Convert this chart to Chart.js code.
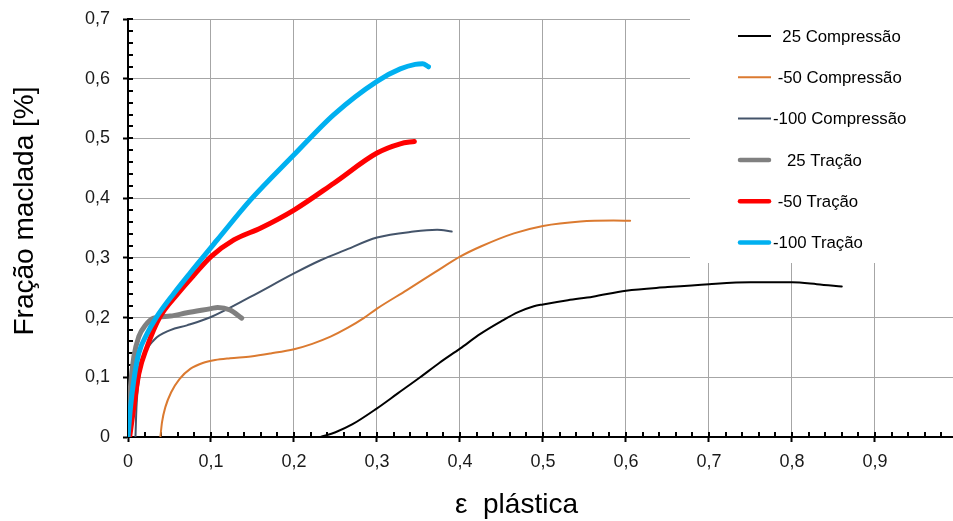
<!DOCTYPE html>
<html lang="pt">
<head>
<meta charset="utf-8">
<title>Fração maclada × ε plástica</title>
<script src="https://cdn.jsdelivr.net/npm/chart.js@4/dist/chart.umd.min.js"></script>
<style>
  html, body { margin: 0; padding: 0; background: #fff; overflow: hidden; }
  canvas { display: block; }
</style>
</head>
<body>
<canvas id="chart" width="953" height="521"></canvas>
<script>
// ---- data -------------------------------------------------------------
const seriesNames = ['  25 Compressão', ' -50 Compressão', '-100 Compressão',
                     '   25 Tração', ' -50 Tração', '-100 Tração'];

// 25 °C, compressão
const comp25X = [0.232, 0.25, 0.27, 0.3, 0.325, 0.352, 0.375, 0.4, 0.425, 0.45, 0.47, 0.489,
                 0.5, 0.53, 0.56, 0.6, 0.65, 0.7, 0.75, 0.8, 0.83, 0.86];
const comp25Y = [0, 0.008, 0.021, 0.048, 0.073, 0.1, 0.124, 0.148, 0.173, 0.194, 0.209, 0.219,
                 0.222, 0.229, 0.235, 0.245, 0.251, 0.256, 0.259, 0.259, 0.256, 0.252];

// -50 °C, compressão
const comp50X = [0.039, 0.041, 0.045, 0.052, 0.062, 0.075, 0.09, 0.105, 0.123, 0.148, 0.172, 0.2,
                 0.222, 0.244, 0.265, 0.284, 0.3, 0.336, 0.37, 0.4, 0.425, 0.465, 0.5, 0.545,
                 0.585, 0.605];
const comp50Y = [0, 0.025, 0.05, 0.075, 0.097, 0.114, 0.124, 0.129, 0.132, 0.135, 0.14, 0.147,
                 0.156, 0.168, 0.183, 0.199, 0.215, 0.246, 0.276, 0.302, 0.319, 0.341, 0.3535, 0.361,
                 0.3624, 0.362];

// -100 °C, compressão
const comp100X = [0.009, 0.0102, 0.013, 0.019, 0.031, 0.051, 0.071, 0.1, 0.148, 0.2, 0.232, 0.26,
                  0.3, 0.344, 0.3725, 0.39];
const comp100Y = [0, 0.05, 0.095, 0.134, 0.162, 0.179, 0.187, 0.201, 0.235, 0.274, 0.296, 0.312,
                  0.334, 0.344, 0.347, 0.344];

// 25 °C, tração
const trac25X = [0.001, 0.003, 0.007, 0.013, 0.021, 0.031, 0.051, 0.071, 0.1, 0.108, 0.123, 0.137];
const trac25Y = [0.03, 0.084, 0.134, 0.168, 0.187, 0.199, 0.2025, 0.208, 0.215, 0.217, 0.2126, 0.199];

// -50 °C, tração
const trac50X = [0.002, 0.007, 0.013, 0.023, 0.038, 0.06, 0.08, 0.1, 0.1275, 0.16, 0.2, 0.248,
                 0.3, 0.328, 0.345];
const trac50Y = [0, 0.05, 0.106, 0.151, 0.2, 0.24, 0.272, 0.302, 0.33, 0.35, 0.38, 0.425,
                 0.4755, 0.491, 0.495];

// -100 °C, tração
const trac100X = [0, 0.003, 0.007, 0.013, 0.023, 0.034, 0.055, 0.075, 0.1075, 0.1476, 0.2, 0.248,
                  0.3, 0.328, 0.346, 0.355, 0.362];
const trac100Y = [0, 0.05, 0.095, 0.14, 0.173, 0.2, 0.24, 0.275, 0.33, 0.397, 0.4726, 0.54,
                  0.5957, 0.6164, 0.624, 0.625, 0.62];

const xTickLabels = ['0', '0,1', '0,2', '0,3', '0,4', '0,5', '0,6', '0,7', '0,8', '0,9'];
const yTickLabels = ['0', '0,1', '0,2', '0,3', '0,4', '0,5', '0,6', '0,7'];

const xTitle = 'ε  plástica';
const yTitle = 'Fração maclada [%]';

// ---- helpers ----------------------------------------------------------
const pts = (xs, ys) => xs.map((x, i) => ({ x, y: ys[i] }));
const FONT = '"Liberation Sans", Arial, sans-serif';

function line(label, xs, ys, color, width, order) {
  return {
    label, data: pts(xs, ys),
    borderColor: color, backgroundColor: color,
    borderWidth: width, pointRadius: 0,
    cubicInterpolationMode: 'monotone',
    borderCapStyle: 'round', borderJoinStyle: 'round',
    fill: false, order
  };
}

// inner tick marks every 0.02 on both axes
const innerTicks = {
  id: 'innerTicks',
  beforeDatasetsDraw(chart) {
    const { ctx, chartArea: a, scales: { x, y } } = chart;
    ctx.save();
    ctx.strokeStyle = '#000';
    ctx.lineWidth = 2;
    ctx.beginPath();
    for (let i = 0; i * 0.02 <= x.max + 1e-9; i++) {
      const px = Math.round(x.getPixelForValue(i * 0.02));
      ctx.moveTo(px, a.bottom);
      ctx.lineTo(px, a.bottom - 5);
    }
    for (let i = 0; i * 0.02 <= y.max + 1e-9; i++) {
      const py = Math.round(y.getPixelForValue(i * 0.02));
      ctx.moveTo(a.left, py);
      ctx.lineTo(a.left + 5, py);
    }
    ctx.stroke();
    ctx.restore();
  }
};

// axis titles
const axisTitles = {
  id: 'axisTitles',
  afterDraw(chart) {
    const { ctx } = chart;
    ctx.save();
    ctx.fillStyle = '#000';
    ctx.font = '28px ' + FONT;
    ctx.textBaseline = 'alphabetic';
    ctx.textAlign = 'left';
    ctx.fillText(xTitle, 455, 513);
    ctx.translate(33, 211);
    ctx.rotate(-Math.PI / 2);
    ctx.textAlign = 'center';
    ctx.fillText(yTitle, 0, 0);
    ctx.restore();
  }
};

// legend panel in the upper-right corner
const sideLegend = {
  id: 'sideLegend',
  afterDatasetsDraw(chart) {
    const { ctx } = chart;
    ctx.save();
    ctx.fillStyle = '#fff';
    ctx.fillRect(690, 0, 263, 263);
    ctx.font = '16.8px ' + FONT;
    ctx.textBaseline = 'middle';
    ctx.textAlign = 'left';
    chart.data.datasets.forEach((ds, i) => {
      const yy = 36 + i * 41.3;
      const thick = ds.borderWidth > 3;
      ctx.strokeStyle = ds.borderColor;
      ctx.lineWidth = thick ? 4.5 : ds.borderWidth;
      ctx.lineCap = thick ? 'round' : 'butt';
      ctx.beginPath();
      ctx.moveTo(thick ? 740 : 738, yy);
      ctx.lineTo(thick ? 769 : 771, yy);
      ctx.stroke();
      ctx.fillStyle = '#000';
      ctx.fillText(ds.label, 773, yy + 1);
    });
    ctx.restore();
  }
};

// ---- chart ------------------------------------------------------------
new Chart(document.getElementById('chart'), {
  type: 'line',
  data: {
    datasets: [
      line(seriesNames[0], comp25X, comp25Y, '#000000', 2, 5),
      line(seriesNames[1], comp50X, comp50Y, '#DB7A30', 2, 4),
      line(seriesNames[2], comp100X, comp100Y, '#44546A', 2, 3),
      line(seriesNames[3], trac25X, trac25Y, '#808080', 5, 2),
      line(seriesNames[4], trac50X, trac50Y, '#FF0000', 5, 1),
      line(seriesNames[5], trac100X, trac100Y, '#00B0F0', 5, 0)
    ]
  },
  options: {
    responsive: false,
    animation: false,
    devicePixelRatio: 1,
    layout: { padding: { top: 19, right: 0, bottom: 0, left: 0 } },
    plugins: { legend: { display: false }, tooltip: { enabled: false } },
    scales: {
      x: {
        type: 'linear', min: 0, max: 0.994,
        afterFit(s) { s.height = 84; s.paddingLeft = 0; s.paddingRight = 0; },
        ticks: {
          stepSize: 0.1, includeBounds: false, padding: 9,
          color: '#1a1a1a', font: { family: FONT, size: 18 },
          maxRotation: 0, autoSkip: false,
          callback: (v) => xTickLabels[Math.round(v * 10)] ?? ''
        },
        grid: { color: '#a6a6a6', lineWidth: 1, tickColor: '#000', tickLength: 5, tickWidth: 2 },
        border: { color: '#000', width: 2 }
      },
      y: {
        type: 'linear', min: 0, max: 0.7,
        afterFit(s) { s.width = 128; s.paddingTop = 0; s.paddingBottom = 0; },
        ticks: {
          stepSize: 0.1, padding: 13,
          color: '#1a1a1a', font: { family: FONT, size: 18 },
          callback: (v) => yTickLabels[Math.round(v * 10)] ?? ''
        },
        grid: { color: '#a6a6a6', lineWidth: 1, tickColor: '#000', tickLength: 5, tickWidth: 2 },
        border: { color: '#000', width: 2 }
      }
    }
  },
  plugins: [innerTicks, sideLegend, axisTitles]
});
</script>
</body>
</html>
